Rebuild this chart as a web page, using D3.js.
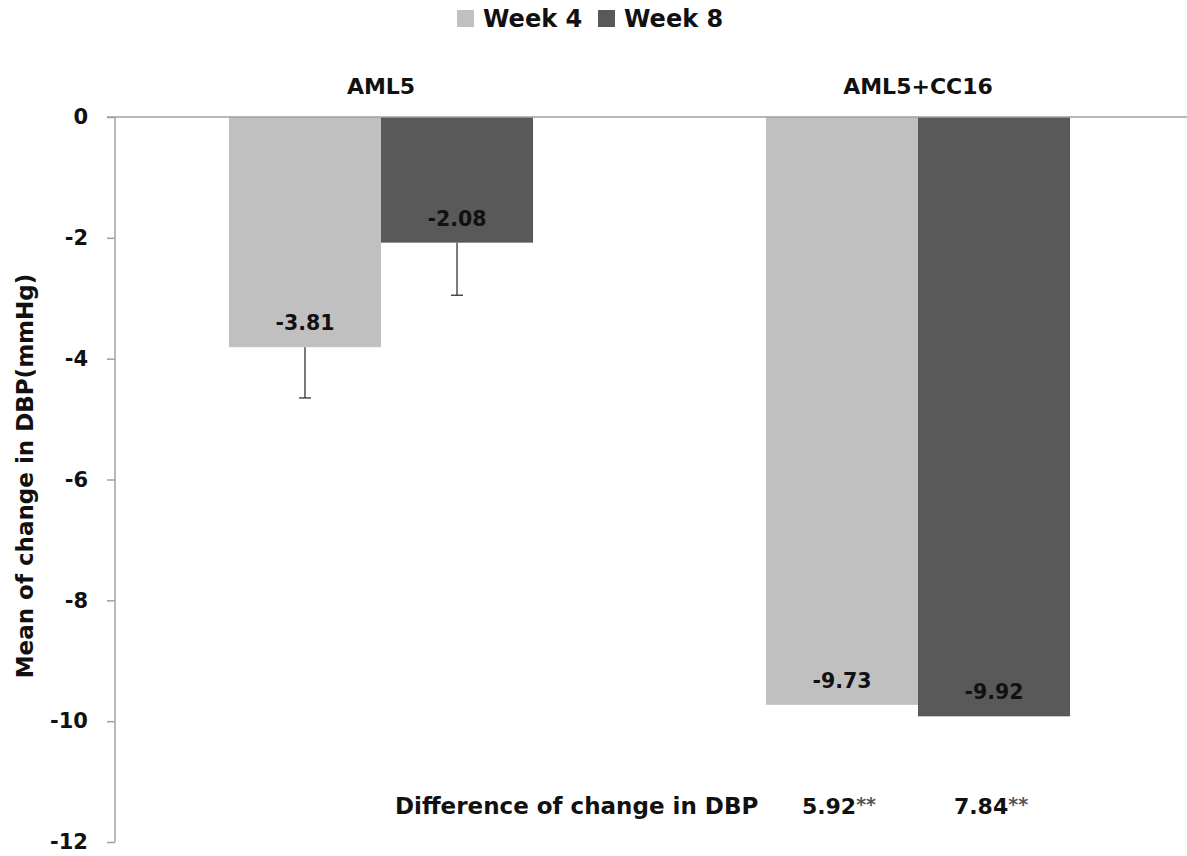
<!DOCTYPE html>
<html><head><meta charset="utf-8">
<script src="https://cdn.jsdelivr.net/npm/d3@7"></script>
<style>body{margin:0;background:#fff;} text{font-family:"DejaVu Sans",sans-serif;font-weight:bold;}</style>
</head><body><svg id="c" width="1187" height="856"></svg>
<script>
const categories = ["AML5", "AML5+CC16"];
const series = ["Week 4", "Week 8"];
const week4 = [-3.81, -9.73];
const week8 = [-2.08, -9.92];
const week4Err = [0.84, null];
const week8Err = [0.87, null];
const yTicks = [0, -2, -4, -6, -8, -10, -12];
const diffLabel = "Difference of change in DBP";
const diffValues = ["5.92", "7.84"];
const colors = ["#c0c0c0", "#595959"];

const svg = d3.select("#c");
const mLeft = 115, mTop = 117, mBottom = 842;
const y = d3.scaleLinear().domain([0, -12]).range([mTop, mBottom]);
const x0 = d3.scaleBand().domain(categories).range([112.5, 1186.5]);
const x1 = d3.scaleBand().domain(series).range([0, x0.bandwidth()]).paddingOuter(0.766).paddingInner(0);

const data = [];
categories.forEach((c, i) => {
  data.push({cat: c, s: series[0], v: week4[i], e: week4Err[i]});
  data.push({cat: c, s: series[1], v: week8[i], e: week8Err[i]});
});

// bars
svg.selectAll("rect.bar").data(data).enter().append("rect")
  .attr("x", d => x0(d.cat) + x1(d.s))
  .attr("width", x1.bandwidth())
  .attr("y", y(0))
  .attr("height", d => y(d.v) - y(0))
  .attr("fill", d => colors[series.indexOf(d.s)]);

// error bars
const eb = data.filter(d => d.e != null);
svg.selectAll("line.err").data(eb).enter().append("line")
  .attr("x1", d => x0(d.cat) + x1(d.s) + x1.bandwidth()/2)
  .attr("x2", d => x0(d.cat) + x1(d.s) + x1.bandwidth()/2)
  .attr("y1", d => y(d.v)).attr("y2", d => y(d.v - d.e))
  .attr("stroke", "#333").attr("stroke-width", 1.3);
svg.selectAll("line.cap").data(eb).enter().append("line")
  .attr("x1", d => x0(d.cat) + x1(d.s) + x1.bandwidth()/2 - 6)
  .attr("x2", d => x0(d.cat) + x1(d.s) + x1.bandwidth()/2 + 6)
  .attr("y1", d => y(d.v - d.e)).attr("y2", d => y(d.v - d.e))
  .attr("stroke", "#333").attr("stroke-width", 1.3);

// value labels
svg.selectAll("text.val").data(data).enter().append("text")
  .attr("x", d => x0(d.cat) + x1(d.s) + x1.bandwidth()/2)
  .attr("y", d => y(d.v) - 17)
  .attr("text-anchor", "middle").attr("font-size", 20.5).attr("fill", "#111")
  .text(d => d.v.toFixed(2));

// y axis
const yAxis = d3.axisLeft(y).tickValues(yTicks).tickSize(8).tickPadding(19).tickFormat(d => String(d));
const ga = svg.append("g").attr("transform", `translate(${mLeft},0)`).call(yAxis);
ga.select(".domain").remove();
ga.selectAll(".tick line").attr("stroke", "#a0a0a0").attr("stroke-width", 1.5);
ga.selectAll(".tick text").attr("font-size", 21).attr("fill", "#111")
  .style("font-family", "'DejaVu Sans', sans-serif").style("font-weight", "bold");
svg.append("line").attr("x1", mLeft).attr("x2", mLeft).attr("y1", y(0)).attr("y2", y(-12))
  .attr("stroke", "#a0a0a0").attr("stroke-width", 1.5);
svg.append("line").attr("x1", mLeft - 8).attr("x2", 1187).attr("y1", y(0)).attr("y2", y(0))
  .attr("stroke", "#a0a0a0").attr("stroke-width", 1.5);

// category labels
svg.selectAll("text.cat").data(categories).enter().append("text")
  .attr("x", d => x0(d) + x0.bandwidth()/2).attr("y", 94)
  .attr("text-anchor", "middle").attr("font-size", 22).attr("fill", "#111").text(d => d);

// y title
svg.append("text").attr("transform", "translate(33,476) rotate(-90)")
  .attr("text-anchor", "middle").attr("font-size", 23).attr("fill", "#111")
  .text("Mean of change in DBP(mmHg)");

// legend
const lg = svg.append("g");
const lx = [457, 598];
series.forEach((s, i) => {
  lg.append("rect").attr("x", lx[i]).attr("y", 10).attr("width", 17).attr("height", 17).attr("fill", colors[i]);
  lg.append("text").attr("x", lx[i] + 26).attr("y", 27).attr("font-size", 24).attr("fill", "#111").text(s);
});

// difference row
svg.append("text").attr("x", 395).attr("y", 814).attr("font-size", 23).attr("fill", "#111").text(diffLabel);
diffValues.forEach((v, i) => {
  const t = svg.append("text").attr("x", x0(categories[1]) + x1(series[i]) + x1.bandwidth()/2 - 3)
    .attr("y", 814).attr("text-anchor", "middle").attr("font-size", 22).attr("fill", "#111");
  t.append("tspan").text(v);
  t.append("tspan").attr("fill", "#555").attr("font-size", 19).attr("dy", -3).text("**");
});
</script></body></html>
